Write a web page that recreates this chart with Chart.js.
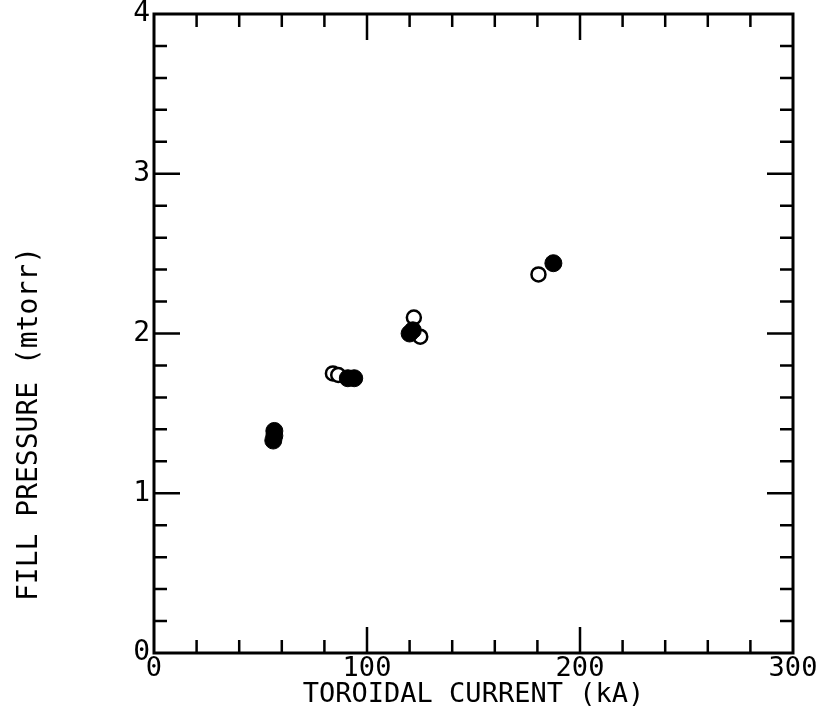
<!DOCTYPE html>
<html>
<head>
<meta charset="utf-8">
<script src="https://cdn.jsdelivr.net/npm/chart.js@4.4.1/dist/chart.umd.min.js"></script>
<style>
  html, body { margin: 0; padding: 0; background: #fff; }
  #wrap { width: 818px; height: 720px; }
</style>
</head>
<body>
<div id="wrap"><canvas id="chart" width="818" height="720"></canvas></div>
<script>
// Filled and open circles, current (kA) vs fill pressure (mtorr)
const filledCurrent = [56.5, 56.5, 56, 91, 94, 120, 121.5, 187.5];
const filledPressure = [1.39, 1.36, 1.33, 1.72, 1.72, 2.0, 2.02, 2.44];
const openCurrent = [84, 86.5, 122, 125, 180.5];
const openPressure = [1.75, 1.74, 2.1, 1.98, 2.37];

const xTickLabels = [0, 100, 200, 300];
const yTickLabels = [0, 1, 2, 3, 4];
const yTitle = 'FILL PRESSURE (mtorr)';

const FONT = "'DejaVu Sans Mono', monospace";

function toPoints(xs, ys) {
  return xs.map((x, i) => ({ x: x, y: ys[i] }));
}

// frame with inward ticks on all four sides, plus the rotated y title
const frameTicks = {
  id: 'frameTicks',
  beforeDatasetsDraw(chart) {
    const { ctx, chartArea: a, scales } = chart;
    ctx.save();
    ctx.strokeStyle = '#000';
    ctx.lineWidth = 3;
    ctx.lineCap = 'butt';
    ctx.strokeRect(a.left, a.top, a.right - a.left, a.bottom - a.top);
    ctx.lineWidth = 2.5;
    ctx.beginPath();
    for (let v = 20; v < 300; v += 20) {
      const px = scales.x.getPixelForValue(v);
      const len = v % 100 === 0 ? 26 : 13;
      ctx.moveTo(px, a.bottom); ctx.lineTo(px, a.bottom - len);
      ctx.moveTo(px, a.top); ctx.lineTo(px, a.top + len);
    }
    for (let k = 1; k < 20; k++) {
      const v = k * 0.2;
      const py = scales.y.getPixelForValue(v);
      const len = k % 5 === 0 ? 26 : 13;
      ctx.moveTo(a.left, py); ctx.lineTo(a.left + len, py);
      ctx.moveTo(a.right, py); ctx.lineTo(a.right - len, py);
    }
    ctx.stroke();

    ctx.translate(30, 424);
    ctx.rotate(-Math.PI / 2);
    ctx.fillStyle = '#000';
    ctx.font = '28px ' + FONT;
    ctx.textAlign = 'center';
    ctx.textBaseline = 'middle';
    ctx.fillText(yTitle, 0, 0);
    ctx.restore();
  }
};

new Chart(document.getElementById('chart').getContext('2d'), {
  type: 'scatter',
  data: {
    datasets: [
      {
        data: toPoints(filledCurrent, filledPressure),
        pointStyle: 'circle',
        pointRadius: 8.5,
        backgroundColor: '#000',
        borderColor: '#000',
        borderWidth: 1,
      },
      {
        data: toPoints(openCurrent, openPressure),
        pointStyle: 'circle',
        pointRadius: 7,
        backgroundColor: '#fff',
        borderColor: '#000',
        borderWidth: 2.5,
      },
    ],
  },
  options: {
    responsive: false,
    animation: false,
    layout: { padding: { left: 0, right: 25, top: 14, bottom: 0 } },
    plugins: {
      legend: { display: false },
      tooltip: { enabled: false },
    },
    scales: {
      x: {
        type: 'linear',
        min: 0,
        max: 300,
        afterBuildTicks: (scale) => {
          scale.ticks = xTickLabels.map((v) => ({ value: v }));
        },
        afterFit: (scale) => {
          scale.height = 67;
          scale.paddingLeft = 0;
          scale.paddingRight = 0;
        },
        grid: { display: false, drawTicks: false },
        border: { display: false },
        ticks: {
          color: '#000',
          padding: 0,
          font: { family: FONT, size: 27 },
          maxRotation: 0,
        },
        title: {
          display: true,
          text: 'TOROIDAL CURRENT (kA)',
          color: '#000',
          font: { family: FONT, size: 27 },
          padding: { top: 0, bottom: 9 },
        },
      },
      y: {
        type: 'linear',
        min: 0,
        max: 4,
        afterBuildTicks: (scale) => {
          scale.ticks = yTickLabels.map((v) => ({ value: v }));
        },
        afterFit: (scale) => {
          scale.width = 154;
          scale.paddingTop = 0;
          scale.paddingBottom = 0;
        },
        grid: { display: false, drawTicks: false },
        border: { display: false },
        ticks: {
          color: '#000',
          padding: 4,
          font: { family: FONT, size: 28 },
        },
      },
    },
  },
  plugins: [frameTicks],
});
</script>
</body>
</html>
